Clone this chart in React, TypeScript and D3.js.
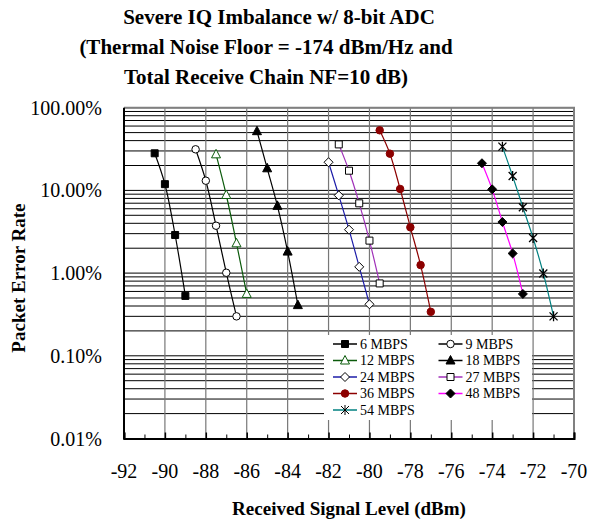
import React, { useEffect, useRef } from 'react';
import * as d3 from 'd3';

// chart text
const titleLines = [
  'Severe IQ Imbalance w/ 8-bit ADC',
  '(Thermal Noise Floor = -174 dBm/Hz and',
  'Total Receive Chain NF=10 dB)',
];
const xTitle = 'Received Signal Level (dBm)';
const yTitle = 'Packet Error Rate';

// axis ticks
const xTicks = [-92, -90, -88, -86, -84, -82, -80, -78, -76, -74, -72, -70];
const xMinorTicks = [-91, -89, -87, -85, -83, -81, -79, -77, -75, -73, -71];
const yTickValues = [0.01, 0.1, 1, 10, 100];
const yTickLabels = ['0.01%', '0.10%', '1.00%', '10.00%', '100.00%'];

// series (signal level in dBm, packet error rate in %)
const names = ['6 MBPS', '9 MBPS', '12 MBPS', '18 MBPS', '24 MBPS', '27 MBPS', '36 MBPS', '48 MBPS', '54 MBPS'];
const x6 = [-90.5, -90, -89.5, -89];
const per6 = [28.1, 11.9, 2.89, 0.53];
const x9 = [-88.5, -88, -87.5, -87, -86.5];
const per9 = [31.4, 13.1, 3.74, 1.01, 0.3];
const x12 = [-87.5, -87, -86.5, -86];
const per12 = [27.3, 8.8, 2.29, 0.56];
const x18 = [-85.5, -85, -84.5, -84, -83.5];
const per18 = [52, 18.5, 6.5, 1.82, 0.41];
const x24 = [-82, -81.5, -81, -80.5, -80];
const per24 = [21.9, 8.7, 3.35, 1.19, 0.42];
const x27 = [-81.5, -81, -80.5, -80, -79.5];
const per27 = [36, 17.3, 6.98, 2.47, 0.75];
const x36 = [-79.5, -79, -78.5, -78, -77.5, -77];
const per36 = [53.3, 27.8, 10.4, 3.58, 1.25, 0.34];
const x48 = [-74.5, -74, -73.5, -73, -72.5];
const per48 = [21.3, 10.3, 4.15, 1.73, 0.56];
const x54 = [-73.5, -73, -72.5, -72, -71.5, -71];
const per54 = [33.8, 14.9, 6.25, 2.66, 0.99, 0.3];

type Marker = 'square' | 'circle' | 'triangle' | 'diamond' | 'star';

interface Series {
  name: string;
  xs: number[];
  ys: number[];
  line: string;
  marker: Marker;
  fill: string;
  stroke: string;
}

const series: Series[] = [
  { name: names[0], xs: x6, ys: per6, line: '#000', marker: 'square', fill: '#000', stroke: '#000' },
  { name: names[1], xs: x9, ys: per9, line: '#000', marker: 'circle', fill: '#fff', stroke: '#000' },
  { name: names[2], xs: x12, ys: per12, line: '#0b5a0b', marker: 'triangle', fill: '#fff', stroke: '#0b5a0b' },
  { name: names[3], xs: x18, ys: per18, line: '#000', marker: 'triangle', fill: '#000', stroke: '#000' },
  { name: names[4], xs: x24, ys: per24, line: '#1c1ca8', marker: 'diamond', fill: '#fff', stroke: '#000' },
  { name: names[5], xs: x27, ys: per27, line: '#a030b8', marker: 'square', fill: '#fff', stroke: '#000' },
  { name: names[6], xs: x36, ys: per36, line: '#8c0000', marker: 'circle', fill: '#8c0000', stroke: '#8c0000' },
  { name: names[7], xs: x48, ys: per48, line: '#ff00ff', marker: 'diamond', fill: '#000', stroke: '#000' },
  { name: names[8], xs: x54, ys: per54, line: '#008080', marker: 'star', fill: 'none', stroke: '#000' },
];

const markerPath = (m: Marker): string => {
  switch (m) {
    case 'square':
      return 'M-3.5,-3.5H3.5V3.5H-3.5Z';
    case 'circle':
      return d3.symbol(d3.symbolCircle, 44)()!;
    case 'triangle':
      return 'M0,-5L4.5,3.5H-4.5Z';
    case 'diamond':
      return 'M0,-4.5L4.5,0L0,4.5L-4.5,0Z';
    case 'star':
      return 'M-4,-4L4,4M-4,4L4,-4M0,-5V5';
  }
};

const W = 589;
const H = 522;

const App: React.FC = () => {
  const svgRef = useRef<SVGSVGElement | null>(null);

  useEffect(() => {
    const svg = d3.select(svgRef.current);
    svg.selectAll('*').remove();

    const left = 124, right = 574, top = 107.7, bottom = 438.5;
    const font = '"Liberation Serif", "Times New Roman", serif';

    const x = d3.scaleLinear().domain([-92, -70]).range([left, right]);
    const y = d3.scaleLog().domain([0.01, 100]).range([bottom, top]);

    svg.append('rect').attr('width', W).attr('height', H).attr('fill', '#fff');

    // title
    const title = svg.append('text')
      .attr('font-family', font)
      .attr('font-weight', 'bold')
      .attr('font-size', 21)
      .attr('text-anchor', 'middle');
    const titleX = [279, 266, 266];
    titleLines.forEach((t, i) => {
      title.append('tspan').attr('x', titleX[i]).attr('y', 24 + i * 30).text(t);
    });

    // horizontal grid (all log ticks)
    svg.append('g')
      .selectAll('line')
      .data(y.ticks())
      .join('line')
      .attr('x1', left).attr('x2', right)
      .attr('y1', d => y(d)).attr('y2', d => y(d))
      .attr('stroke', '#000')
      .attr('stroke-width', 1);

    // vertical grid
    svg.append('g')
      .selectAll('line')
      .data(xTicks.slice(1, -1))
      .join('line')
      .attr('x1', d => x(d)).attr('x2', d => x(d))
      .attr('y1', top).attr('y2', bottom)
      .attr('stroke', '#777')
      .attr('stroke-width', 1.2);

    // plot border (top/right)
    svg.append('path')
      .attr('d', `M${left},${top}H${right}V${bottom}`)
      .attr('fill', 'none')
      .attr('stroke', '#808080')
      .attr('stroke-width', 2);

    // x axis
    svg.append('g')
      .attr('transform', `translate(0,${bottom})`)
      .call(d3.axisBottom(x).tickValues(xTicks).tickSize(-6).tickFormat(() => ''))
      .call(g => g.select('.domain').attr('stroke-width', 2))
      .call(g => g.selectAll('.tick line').attr('stroke-width', 1.5));
    svg.append('g')
      .attr('transform', `translate(0,${bottom})`)
      .call(d3.axisBottom(x).tickValues(xMinorTicks).tickSize(-4).tickFormat(() => ''))
      .call(g => g.select('.domain').remove());

    svg.append('g')
      .selectAll('text')
      .data(xTicks)
      .join('text')
      .attr('x', d => x(d))
      .attr('y', 478)
      .attr('text-anchor', 'middle')
      .attr('font-family', font)
      .attr('font-size', 20)
      .text(d => String(d));

    // y axis
    svg.append('line')
      .attr('x1', left).attr('x2', left)
      .attr('y1', top).attr('y2', bottom + 1)
      .attr('stroke', '#000')
      .attr('stroke-width', 2);

    svg.append('g')
      .selectAll('text')
      .data(yTickValues)
      .join('text')
      .attr('x', 102)
      .attr('y', d => y(d))
      .attr('dy', '0.35em')
      .attr('text-anchor', 'end')
      .attr('font-family', font)
      .attr('font-size', 20)
      .text((d, i) => yTickLabels[i]);

    // axis titles
    svg.append('text')
      .attr('x', (left + right) / 2)
      .attr('y', 515)
      .attr('text-anchor', 'middle')
      .attr('font-family', font)
      .attr('font-weight', 'bold')
      .attr('font-size', 19)
      .text(xTitle);

    svg.append('text')
      .attr('transform', `translate(25,${(top + bottom) / 2 + 5}) rotate(-90)`)
      .attr('text-anchor', 'middle')
      .attr('font-family', font)
      .attr('font-weight', 'bold')
      .attr('font-size', 19)
      .text(yTitle);

    // series
    const line = d3.line<[number, number]>()
      .x(d => x(d[0]))
      .y(d => y(d[1]))
      .curve(d3.curveCatmullRom.alpha(0.5));

    series.forEach(s => {
      const pts: [number, number][] = s.xs.map((v, i) => [v, s.ys[i]]);
      svg.append('path')
        .attr('d', line(pts))
        .attr('fill', 'none')
        .attr('stroke', s.line)
        .attr('stroke-width', 1.2);
      svg.append('g')
        .selectAll('path')
        .data(pts)
        .join('path')
        .attr('transform', d => `translate(${x(d[0])},${y(d[1])})`)
        .attr('d', markerPath(s.marker))
        .attr('fill', s.fill)
        .attr('stroke', s.stroke)
        .attr('stroke-width', s.marker === 'star' ? 1.3 : 1);
    });

    // legend
    const lg = svg.append('g');
    lg.append('rect')
      .attr('x', 324).attr('y', 335)
      .attr('width', 208).attr('height', 85)
      .attr('fill', '#fff');
    series.forEach((s, i) => {
      const col = i % 2;
      const row = Math.floor(i / 2);
      const cx = col === 0 ? 345 : 450.5;
      const cy = 344 + row * 16.5;
      const item = lg.append('g');
      item.append('line')
        .attr('x1', cx - 12).attr('x2', cx + 12)
        .attr('y1', cy).attr('y2', cy)
        .attr('stroke', s.line)
        .attr('stroke-width', 1.5);
      item.append('path')
        .attr('transform', `translate(${cx},${cy})`)
        .attr('d', markerPath(s.marker))
        .attr('fill', s.fill === 'none' ? 'none' : s.fill)
        .attr('stroke', s.stroke)
        .attr('stroke-width', 1);
      item.append('text')
        .attr('x', cx + 15)
        .attr('y', cy)
        .attr('dy', '0.35em')
        .attr('font-family', font)
        .attr('font-size', 14)
        .text(s.name);
    });
  }, []);

  return (
    <svg
      ref={svgRef}
      width={W}
      height={H}
      style={{ position: 'absolute', left: 0, top: 0 }}
    />
  );
};

export default App;
